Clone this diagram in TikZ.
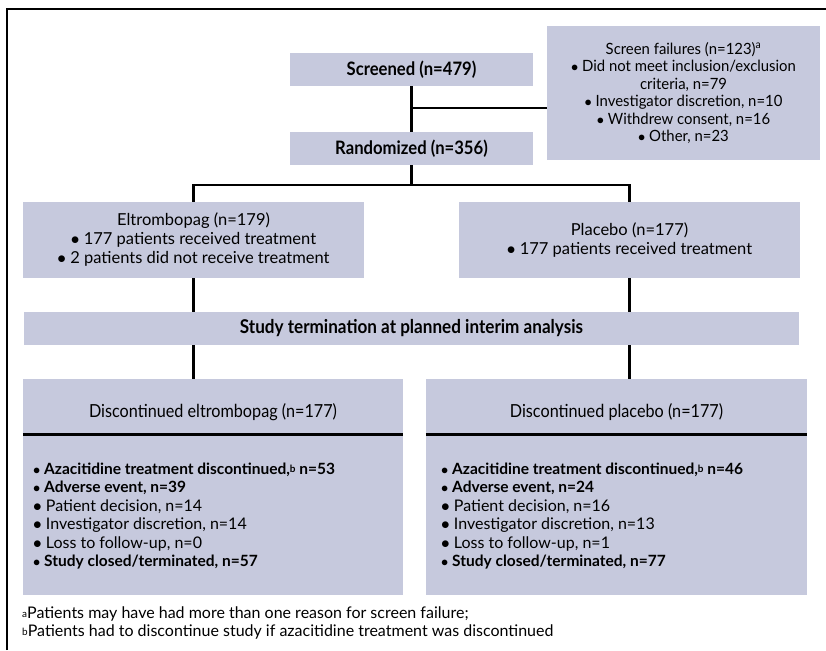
\documentclass[tikz,border=0pt]{standalone}
\usepackage{fontspec}
\setmainfont{Lato}
\newfontfamily\cond[FakeStretch=0.9]{Lato}
\newfontfamily\condb[FakeStretch=0.96]{Lato}
\definecolor{boxc}{RGB}{198,201,221}
\tikzset{
  bx/.style={fill=boxc, draw=none, inner sep=0pt, align=center},
  ln/.style={line width=2.4pt, black},
  rule/.style={line width=3pt, black},
}
\newcommand{\smb}[1]{{\fontsize{10}{10}\selectfont\raisebox{1.5pt}{#1}}}
\newcommand{\bitem}[1]{{\fontsize{15.5}{18.4}\selectfont\bfseries #1}}
\begin{document}
\begin{tikzpicture}[x=1pt,y=-1pt]
\useasboundingbox (0,0) rectangle (826,650);
\draw[ln] (7,650) -- (7,9) -- (826,9);

\node[bx, minimum width=243pt, minimum height=33pt, font=\cond\bfseries\fontsize{18.5}{20}\selectfont] (scr) at (411.5,69.5) {Screened (n=479)};
\node[bx, minimum width=243pt, minimum height=33pt, font=\cond\bfseries\fontsize{18.5}{20}\selectfont] (rnd) at (411.5,148.5) {Randomized (n=356)};
\node[bx, minimum width=273pt, minimum height=134pt, font=\condb\fontsize{15.5}{17.5}\selectfont] (sf) at (683.5,93) {Screen failures (n=123)\textsuperscript{a}\\ $\bullet$ Did not meet inclusion/exclusion\\ criteria, n=79\\ $\bullet$ Investigator discretion, n=10\\ $\bullet$ Withdrew consent, n=16\\ $\bullet$ Other, n=23};

\node[bx, minimum width=341pt, minimum height=76pt, font=\fontsize{16.5}{19}\selectfont] (elt) at (193.5,240) {Eltrombopag (n=179)\\ $\bullet$ 177 patients received treatment\\ $\bullet$ 2 patients did not receive treatment};
\node[bx, minimum width=341pt, minimum height=76pt, font=\fontsize{16.5}{19}\selectfont] (pla) at (629.5,240) {Placebo (n=177)\\ $\bullet$ 177 patients received treatment};

\node[bx, minimum width=775pt, minimum height=33pt, font=\cond\bfseries\fontsize{19}{20}\selectfont] (term) at (411.5,328.5) {Study termination at planned interim analysis};

\node[bx, minimum width=380pt, minimum height=216pt] (delt) at (213,487) {};
\node[bx, minimum width=381pt, minimum height=216pt] (dpla) at (616.5,487) {};
\node[font=\cond\fontsize{18}{20}\selectfont, inner sep=0pt] (delt-t) at (213,412) {Discontinued eltrombopag (n=177)};
\node[font=\cond\fontsize{18}{20}\selectfont, inner sep=0pt] (dpla-t) at (616.5,412) {Discontinued placebo (n=177)};
\draw[rule] ([yshift=-56pt]delt.north west) -- ([yshift=-56pt]delt.north east);
\draw[rule] ([yshift=-56pt]dpla.north west) -- ([yshift=-56pt]dpla.north east);

\node[anchor=west, align=left, inner sep=0pt, font=\fontsize{16}{18.4}\selectfont] (delt-l) at (33,516) {%
\bitem{$\bullet$ Azacitidine treatment discontinued,\smb{b} n=53}\\
\bitem{$\bullet$ Adverse event, n=39}\\
$\bullet$ Patient decision, n=14\\
$\bullet$ Investigator discretion, n=14\\
$\bullet$ Loss to follow-up, n=0\\
\bitem{$\bullet$ Study closed/terminated, n=57}};
\node[anchor=west, align=left, inner sep=0pt, font=\fontsize{16}{18.4}\selectfont] (dpla-l) at (441,516) {%
\bitem{$\bullet$ Azacitidine treatment discontinued,\smb{b} n=46}\\
\bitem{$\bullet$ Adverse event, n=24}\\
$\bullet$ Patient decision, n=16\\
$\bullet$ Investigator discretion, n=13\\
$\bullet$ Loss to follow-up, n=1\\
\bitem{$\bullet$ Study closed/terminated, n=77}};

\node[anchor=west, align=left, inner sep=0pt, font=\fontsize{16}{18}\selectfont] (fn) at (22,623) {%
\smb{a}Patients may have had more than one reason for screen failure;\\
\smb{b}Patients had to discontinue study if azacitidine treatment was discontinued};

\coordinate (j1) at (411.5,108);
\coordinate (j2) at (411.5,185);
\draw[ln] (scr.south) -- (rnd.north);
\draw[ln] (j1) -- (j1 -| sf.west);
\draw[ln] (rnd.south) -- (j2);
\draw[ln] (elt.north) |- (j2) -| (pla.north);
\draw[ln] (elt.south) -- (elt.south |- term.north);
\draw[ln] (pla.south) -- (pla.south |- term.north);
\draw[ln] (term.south -| elt.south) -- (delt.north -| elt.south);
\draw[ln] (term.south -| pla.south) -- (dpla.north -| pla.south);
\end{tikzpicture}
\end{document}
